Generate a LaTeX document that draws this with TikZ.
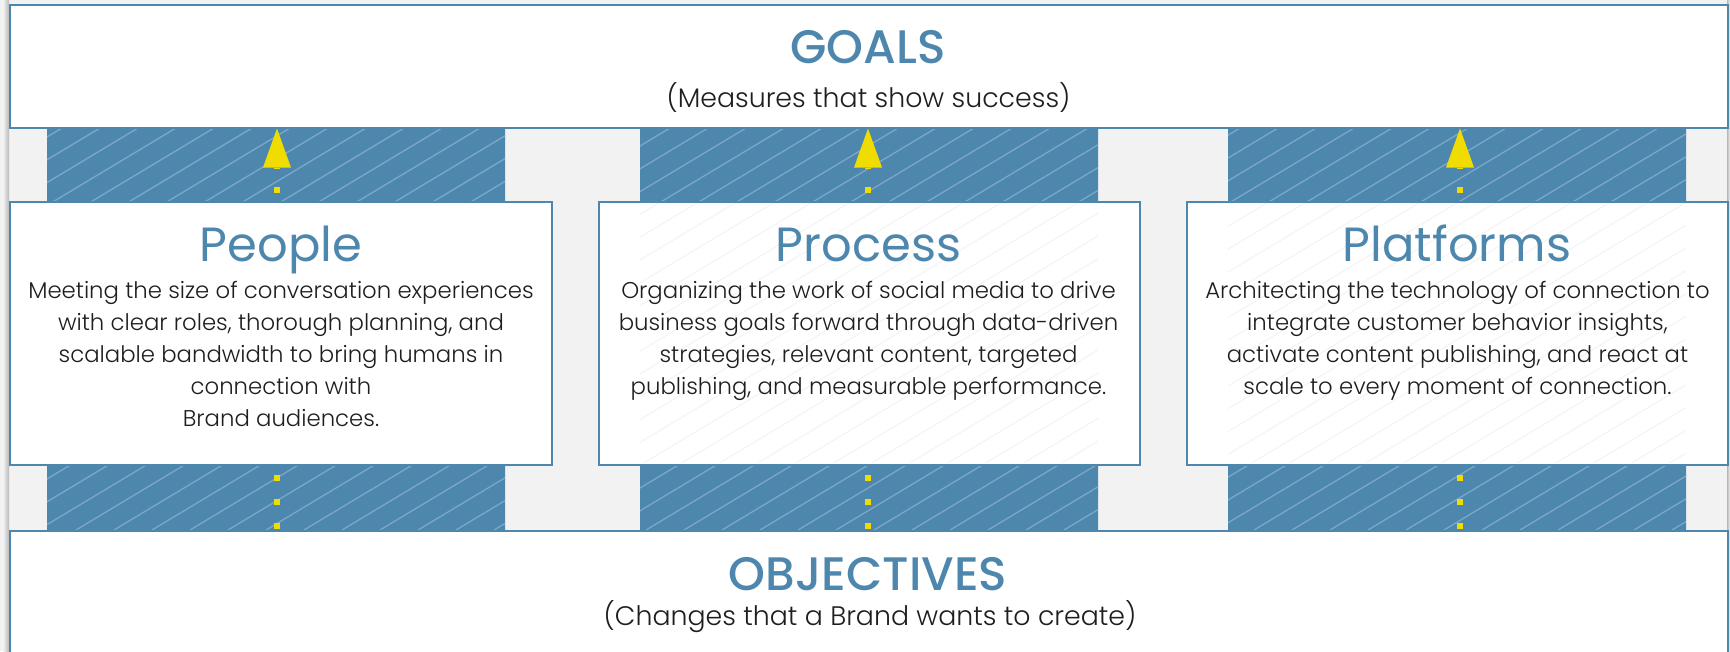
\documentclass[tikz,border=0pt]{standalone}
\usepackage{fontspec}
\setmainfont{Poppins Light}
\newfontfamily\titlefont{Poppins}
\newfontfamily\headfont{Poppins Medium}
\usetikzlibrary{arrows.meta}
\definecolor{brand}{RGB}{78,135,174}
\definecolor{hatchblue}{RGB}{125,167,199}
\definecolor{bggray}{RGB}{242,242,242}
\definecolor{arrowyellow}{RGB}{240,220,0}
\definecolor{ink}{RGB}{30,30,30}
\definecolor{faint}{RGB}{243,243,243}
\begin{document}
\begin{tikzpicture}[x=1pt,y=-1pt,
  panel/.style={draw=brand, line width=1.5pt, fill=white, inner sep=0pt, anchor=north west},
  headtext/.style={font=\headfont\fontsize{47}{47}\selectfont, text=brand, anchor=base, inner sep=0pt},
  coltitle/.style={font=\titlefont\fontsize{48}{48}\selectfont, text=brand, anchor=base, inner sep=0pt},
  body/.style={font=\fontsize{22.8}{32.2}\selectfont, text=ink, align=center, anchor=base, inner sep=0pt},
  subtext/.style={font=\fontsize{26.8}{30}\selectfont, text=ink, anchor=base, inner sep=0pt},
  flow/.style={draw=arrowyellow, line width=6pt, dash pattern=on 6pt off 18pt, dash phase=23pt,
    -{Triangle[length=39pt,width=28pt,line width=0pt]}},
  hatchline/.style={draw=hatchblue, line width=1.3pt},
  faintline/.style={draw=faint, line width=1pt}
]
\useasboundingbox (0,0) rectangle (1730,651);
\clip (0,0) rectangle (1730,651);
\fill[bggray] (0,0) rectangle (1730,651);
\shade[left color=bggray, right color=black!28] (3,0) rectangle (9,651);
\shade[left color=black!28, right color=bggray] (1727,0) rectangle (1730,651);

% blue bands with hatching
\fill[brand] (47,128) rectangle (505,530) (640,128) rectangle (1098,530) (1228,128) rectangle (1686,530);
\begin{scope}
  \clip (47,128) rectangle (505,530) (640,128) rectangle (1098,530) (1228,128) rectangle (1686,530);
  \foreach \k in {-20,...,46} \draw[hatchline] (\k*38,530) -- ++(670,-402);
\end{scope}

% column centres
\coordinate (c1) at (277,0);
\coordinate (c2) at (868,0);
\coordinate (c3) at (1460,0);

% goals and objectives panels
\node[panel, minimum width=1718pt, minimum height=123pt] (goals) at (9,4) {};
\node[panel, minimum width=1718pt, minimum height=140pt] (objectives) at (9,530) {};

% connectors
\draw[flow] (objectives.north -| c1) -- (goals.south -| c1);
\draw[flow] (objectives.north -| c2) -- (goals.south -| c2);
\draw[flow] (objectives.north -| c3) -- (goals.south -| c3);

% middle panels
\node[panel, minimum width=542pt, minimum height=263pt] (people) at (9,201) {};
\node[panel, minimum width=541pt, minimum height=263pt] (process) at (598,201) {};
\node[panel, minimum width=541pt, minimum height=263pt] (platforms) at (1186,201) {};

\begin{scope}
  \clip (640,203) rectangle (1098,463) (1228,203) rectangle (1686,463);
  \foreach \k in {-20,...,46} \draw[faintline] (\k*38,530) -- ++(670,-402);
\end{scope}

% texts
\node[headtext] (goalsT) at (868,63) {GOALS};
\node[subtext] (goalsS) at (868.5,107) {(Measures that show success)};

\node[coltitle] (peopleT) at (281,261) {People};
\node[body] (peopleB) at (281,426.8) {Meeting the size of conversation experiences\\with clear roles, thorough planning, and\\scalable bandwidth to bring humans in\\connection with\\Brand audiences.};

\node[coltitle] (processT) at (868.5,261) {Process};
\node[body] (processB) at (868.5,394.6) {Organizing the work of social media to drive\\business goals forward through data-driven\\strategies, relevant content, targeted\\publishing, and measurable performance.};

\node[coltitle] (platformsT) at (1457,261) {Platforms};
\node[body] (platformsB) at (1457.5,394.6) {Architecting the technology of connection to\\integrate customer behavior insights,\\activate content publishing, and react at\\scale to every moment of connection.};

\node[headtext] (objT) at (868,590) {OBJECTIVES};
\node[subtext] (objS) at (870,625) {(Changes that a Brand wants to create)};
\end{tikzpicture}
\end{document}
